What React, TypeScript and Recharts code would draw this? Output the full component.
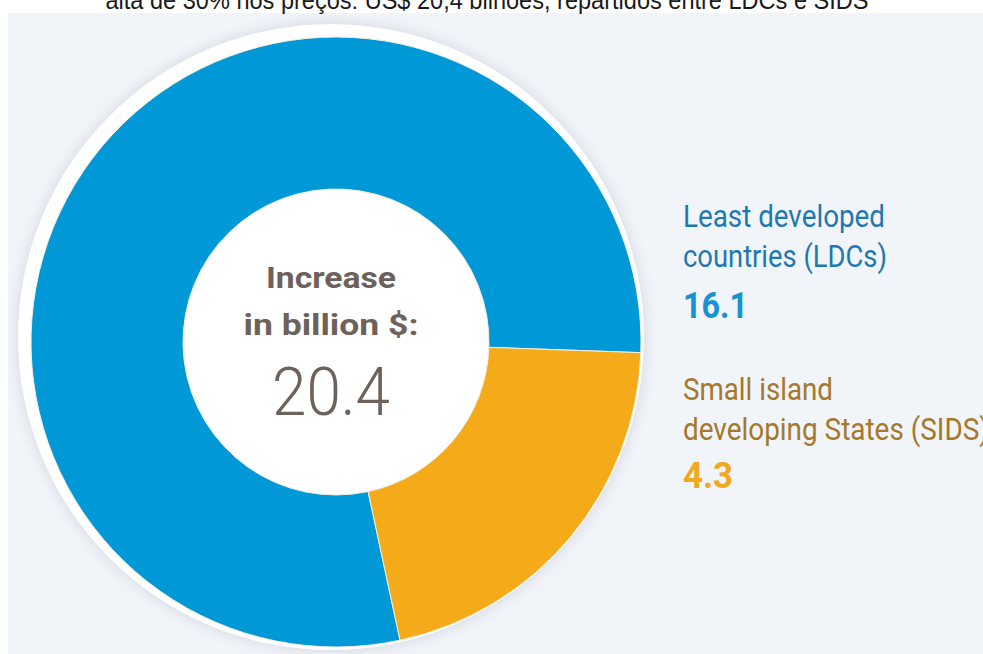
import { PieChart, Pie, Cell } from 'recharts';

const groups = ['Least developed countries (LDCs)', 'Small island developing States (SIDS)'];
const increase = [16.1, 4.3];
const total = 20.4;
const sliceColors = ['#0098d6', '#f5ab19'];

const data = groups.map((name, i) => ({ name, value: increase[i] }));

const W = 983;
const H = 654;
const CX = 331;
const CY = 337;

const gray = '#6c625b';
const font = 'Roboto, "Liberation Sans", sans-serif';

export default function App() {
  return (
    <div style={{ position: 'absolute', left: 0, top: 0, width: W, height: H, background: '#fff', overflow: 'hidden' }}>
      {/* panel */}
      <div style={{ position: 'absolute', left: 8, top: 13, width: W - 8, height: H - 13, background: '#f1f4f9' }} />
      {/* white ring around the donut */}
      <div
        style={{
          position: 'absolute',
          left: CX - 313,
          top: CY - 313,
          width: 626,
          height: 626,
          borderRadius: '50%',
          background: '#fff',
          boxShadow: '0 0 14px rgba(120,130,150,0.25)',
        }}
      />
      <div style={{ position: 'absolute', left: 0, top: 0 }}>
        <PieChart width={W} height={H}>
          <Pie
            data={data}
            dataKey="value"
            nameKey="name"
            cx={CX}
            cy={CY}
            innerRadius={153}
            outerRadius={305}
            startAngle={-2}
            endAngle={358}
            stroke="#f3eee0"
            strokeWidth={1}
            isAnimationActive={false}
          >
            {data.map((d, i) => (
              <Cell key={d.name} fill={sliceColors[i]} />
            ))}
          </Pie>
        </PieChart>
      </div>
      <svg width={W} height={H} style={{ position: 'absolute', left: 0, top: 0, pointerEvents: 'none' }}>
        <text x={487} y={9} fontSize={25} fill="#1a1a1a" textAnchor="middle" fontFamily='"Liberation Sans", sans-serif'
          textLength={763} lengthAdjust="spacingAndGlyphs">
          alta de 30% nos preços: US$ 20,4 bilhões, repartidos entre LDCs e SIDS
        </text>

        <text x={CX} y={288} fontSize={30} fontWeight={700} fill={gray} textAnchor="middle" fontFamily={font}
          textLength={130} lengthAdjust="spacingAndGlyphs">Increase</text>
        <text x={CX} y={335} fontSize={30} fontWeight={700} fill={gray} textAnchor="middle" fontFamily={font}
          textLength={175} lengthAdjust="spacingAndGlyphs">in billion $:</text>
        <text x={CX} y={415} fontSize={66} fontWeight={300} fill={gray} textAnchor="middle" fontFamily={font}
          textLength={118} lengthAdjust="spacingAndGlyphs">{total.toFixed(1)}</text>

        <text x={683} y={227} fontSize={31} fill="#1f79ae" fontFamily={font} textLength={202} lengthAdjust="spacingAndGlyphs">Least developed</text>
        <text x={683} y={267} fontSize={31} fill="#1f79ae" fontFamily={font} textLength={204} lengthAdjust="spacingAndGlyphs">countries (LDCs)</text>
        <text x={683} y={318} fontSize={36} fontWeight={700} fill="#1a91d2" fontFamily={font} textLength={65} lengthAdjust="spacingAndGlyphs">{increase[0].toFixed(1)}</text>

        <text x={683} y={400} fontSize={31} fill="#a6782b" fontFamily={font} textLength={150} lengthAdjust="spacingAndGlyphs">Small island</text>
        <text x={683} y={440} fontSize={31} fill="#a6782b" fontFamily={font} textLength={306} lengthAdjust="spacingAndGlyphs">developing States (SIDS)</text>
        <text x={683} y={488} fontSize={36} fontWeight={700} fill="#f3a81c" fontFamily={font} textLength={50} lengthAdjust="spacingAndGlyphs">{increase[1].toFixed(1)}</text>
      </svg>
    </div>
  );
}
